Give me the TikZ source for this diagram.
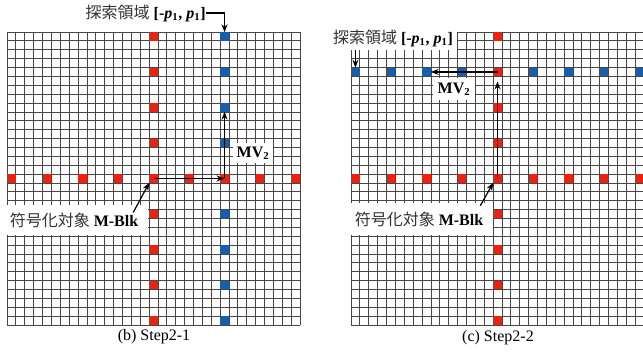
\documentclass[tikz,border=0pt]{standalone}
\usepackage{fontspec}
\setmainfont{Liberation Serif}
\newfontfamily\cjk{Noto Sans CJK JP}
\usetikzlibrary{arrows.meta,calc}
\definecolor{sqred}{RGB}{236,34,14}
\definecolor{sqblue}{RGB}{24,94,170}
\begin{document}
\begin{tikzpicture}[x=0.75pt,y=-0.75pt,
  gridline/.style={line width=0.6pt, draw=black!72},
  cellsq/.style={minimum size=6.3pt, inner sep=0pt, outer sep=0pt, draw=none},
  redsq/.style={cellsq, fill=sqred},
  bluesq/.style={cellsq, fill=sqblue},
  arr/.style={line width=0.9pt, -{Stealth[length=6pt,width=4.5pt]}},
  lbl/.style={fill=white, inner sep=0pt, font=\fontsize{12}{14}\selectfont},
  captext/.style={font=\fontsize{12}{14}\selectfont}]
\clip (0,0) rectangle (643,352);
% grids
\foreach \i in {0,...,33}{
  \draw[gridline] ({7+\i*8.8788},32) -- ({7+\i*8.8788},325);
  \draw[gridline] (7,{32+\i*8.8788}) -- (300,{32+\i*8.8788});
  \draw[gridline] ({351+\i*8.8788},32) -- ({351+\i*8.8788},325);
  \draw[gridline] (351,{32+\i*8.8788}) -- (644,{32+\i*8.8788});
}
% squares
\foreach \k in {0,4,...,32}{
  \node[redsq] (L-16-\k) at ({7+16.5*8.8788},{32+(\k+0.5)*8.8788}) {};
  \node[redsq] (L-\k-16) at ({7+(\k+0.5)*8.8788},{32+16.5*8.8788}) {};
  \node[redsq] (R-16-\k) at ({351+16.5*8.8788},{32+(\k+0.5)*8.8788}) {};
  \node[redsq] (R-\k-16) at ({351+(\k+0.5)*8.8788},{32+16.5*8.8788}) {};
}
\foreach \k in {0,4,8,12,20,24,28,32}{
  \node[bluesq] (L-24-\k) at ({7+24.5*8.8788},{32+(\k+0.5)*8.8788}) {};
  \node[bluesq] (R-\k-4) at ({351+(\k+0.5)*8.8788},{32+4.5*8.8788}) {};
}
% labels
\node[lbl, anchor=east] (srchL) at (206,13) {{\cjk\color{black!80}探索領域} \textbf{[-\textit{p}\textsubscript{1}, \textit{p}\textsubscript{1}]}};
\node[lbl, inner xsep=3pt, inner ysep=2.5pt] (srchR) at (393,38) {{\cjk\color{black!80}探索領域} \textbf{[-\textit{p}\textsubscript{1}, \textit{p}\textsubscript{1}]}};
\node[lbl, minimum width=30pt, minimum height=15pt] (mvL) at (253,153) {\textbf{MV\textsubscript{2}}};
\node[lbl, minimum width=31pt, minimum height=16pt] (mvR) at (454,89) {\textbf{MV\textsubscript{2}}};
\node[lbl, minimum width=111pt, minimum height=23pt] (objL) at (74,220) {{\cjk\color{black!80}符号化対象} \textbf{M-Blk}};
\node[lbl, minimum width=111pt, minimum height=24pt] (objR) at (419,219) {{\cjk\color{black!80}符号化対象} \textbf{M-Blk}};
% arrows
\draw[arr] (srchL.east) -| (L-24-0.north);
\draw[arr] (srchR.south -| R-0-4) -- (R-0-4.north);
\draw[arr] (L-16-16.center) -- (L-24-16.center);
\draw[arr] (L-24-16.center) -- (L-24-8.south);
\draw[arr] (R-16-16.center) -- ([yshift=-4pt]R-16-4.south);
\draw[arr] (R-16-4.center) -- (R-8-4.east);
\draw[arr] ([shift={(-15,8)}]objL.north east) -- (L-16-16.south west);
\draw[arr] ([shift={(-13,3)}]objR.north east) -- (R-16-16.south west);
% captions
\node[captext] (capL) at (154,337) {(b) Step2-1};
\node[captext] (capR) at (498,338) {(c) Step2-2};
\end{tikzpicture}
\end{document}
